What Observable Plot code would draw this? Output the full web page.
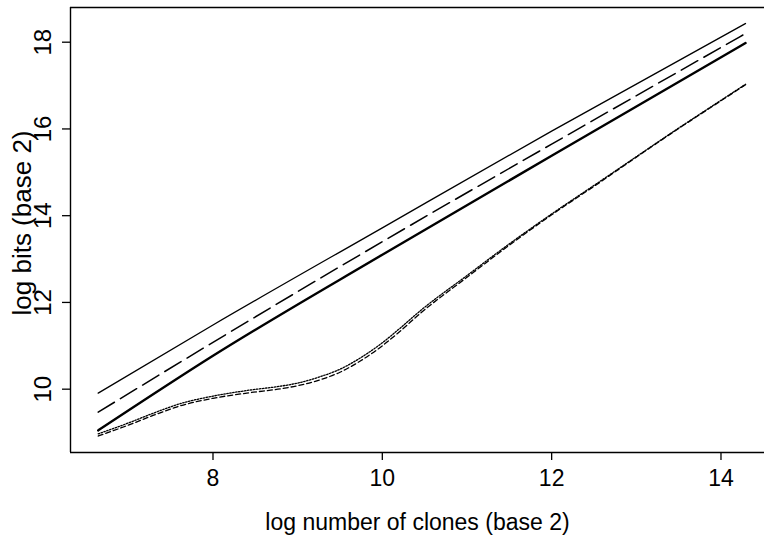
<!DOCTYPE html>
<html>
<head>
<meta charset="utf-8">
<script src="https://cdn.jsdelivr.net/npm/d3@7"></script>
<script src="https://cdn.jsdelivr.net/npm/@observablehq/plot@0.6"></script>
<style>
  html, body { margin: 0; padding: 0; background: #fff; }
  #chart { width: 764px; height: 538px; }
  svg { font-family: "Liberation Sans", Arial, Helvetica, sans-serif; }
</style>
</head>
<body>
<div id="chart"></div>
<script>
// ---- data ----
const xTicks = [8, 10, 12, 14];
const yTicks = [10, 12, 14, 16, 18];
const xLabel = "log number of clones (base 2)";
const yLabel = "log bits (base 2)";

// straight-ish upper curves
const xUpper = [6.644, 8, 10, 12, 14.29];
const thinSolid = [9.91, 11.48, 13.72, 15.95, 18.43];
const longDash = [9.47, 11.08, 13.40, 15.65, 18.20];
const thickSolid = [9.05, 10.77, 13.10, 15.38, 17.98];

// lower pair of curves
const xLower = [6.644, 7.0, 7.3, 7.62, 8.0, 8.44, 8.8, 9.0, 9.27, 9.5, 9.74, 10.0, 10.2, 10.45, 11.0, 11.5, 12.0, 12.57, 13.0, 13.5, 14.0, 14.29];
const dotted = [8.97, 9.22, 9.45, 9.67, 9.84, 9.98, 10.07, 10.14, 10.29, 10.46, 10.72, 11.07, 11.39, 11.81, 12.62, 13.35, 14.04, 14.79, 15.36, 16.02, 16.66, 17.03];
const dashed = [8.92, 9.17, 9.40, 9.62, 9.79, 9.92, 10.01, 10.08, 10.22, 10.39, 10.65, 11.00, 11.32, 11.75, 12.58, 13.32, 14.02, 14.77, 15.35, 16.01, 16.65, 17.02];

const xDomain = [6.317, 14.514];
const yDomain = [8.54, 18.80];

const toRows = (xs, ys) => xs.map((x, i) => ({x, y: ys[i]}));

const fx = 23;
const fy = 24;
const chart = Plot.plot({
  width: 764,
  height: 538,
  marginLeft: 70,
  marginRight: 0,
  marginTop: 7,
  marginBottom: 86,
  style: {fontFamily: "Liberation Sans, Arial, sans-serif", background: "#fff", color: "#000"},
  x: {domain: xDomain},
  y: {domain: yDomain},
  marks: [
    Plot.axisX({ticks: xTicks, tickSize: 8, tickPadding: 9, fontSize: fx, tickFormat: d => String(d), label: null, strokeWidth: 1.3}),
    Plot.axisY({ticks: yTicks, tickSize: 8, tickFormat: () => "", label: null, strokeWidth: 1.3}),
    Plot.text(yTicks, {y: d => d, text: d => String(d), frameAnchor: "left", textAnchor: "middle", lineAnchor: "middle", dx: -27, rotate: -90, fontSize: fy}),
    Plot.text([xLabel], {frameAnchor: "bottom", textAnchor: "middle", lineAnchor: "middle", dy: 70, fontSize: fx}),
    Plot.text([yLabel], {frameAnchor: "left", textAnchor: "middle", lineAnchor: "middle", dx: -48, dy: -7, rotate: -90, fontSize: 26}),
    Plot.ruleX([xDomain[0]], {strokeWidth: 1.4}),
    Plot.ruleY(yDomain, {strokeWidth: 1.4}),
    Plot.line(toRows(xUpper, thinSolid), {x: "x", y: "y", curve: "monotone-x", strokeWidth: 1.3}),
    Plot.line(toRows(xUpper, longDash), {x: "x", y: "y", curve: "monotone-x", strokeWidth: 1.5, strokeDasharray: "19,7"}),
    Plot.line(toRows(xUpper, thickSolid), {x: "x", y: "y", curve: "monotone-x", strokeWidth: 2.4}),
    Plot.line(toRows(xLower, dotted), {x: "x", y: "y", curve: "monotone-x", strokeWidth: 1.3, strokeDasharray: "1.5,1.5"}),
    Plot.line(toRows(xLower, dashed), {x: "x", y: "y", curve: "monotone-x", strokeWidth: 1.3, strokeDasharray: "5,3"})
  ]
});
document.getElementById("chart").appendChild(chart);
</script>
</body>
</html>
